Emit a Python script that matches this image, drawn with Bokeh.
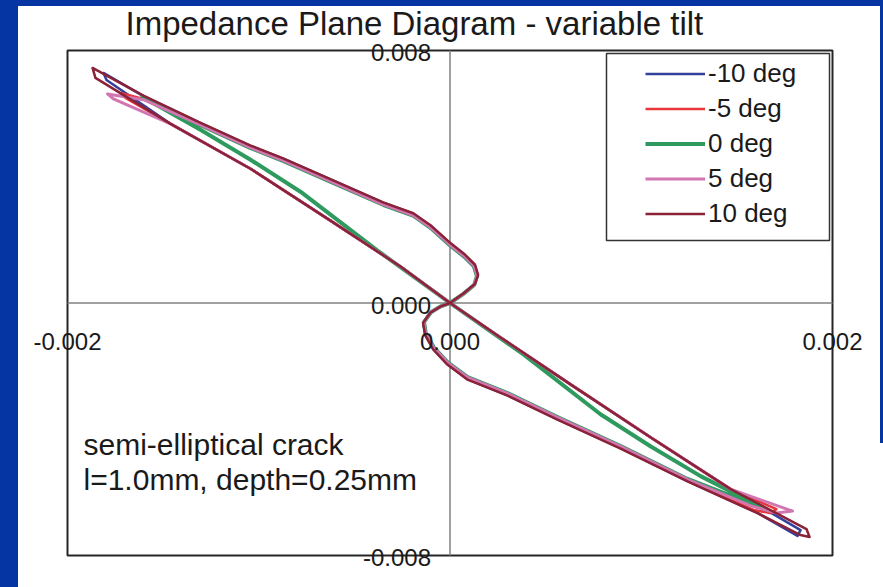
from bokeh.plotting import figure
from bokeh.models import Range1d, Label, BoxAnnotation, Legend, LegendItem
from bokeh.embed import file_html
from bokeh.resources import INLINE

# ---- impedance-plane traces (real, imaginary) for each tilt angle ----
tilt_labels = ["-10 deg", "-5 deg", "0 deg", "5 deg", "10 deg"]

re_m10 = [0, 0.000071, 0.000128, 0.000145, 0.000129, 0.000077, 0.000003, -0.000102, -0.000192, -0.000349,
          -0.000610, -0.000872, -0.001044, -0.001306, -0.001603, -0.001812, -0.001796, -0.001461, -0.001043, -0.000625,
          -0.000259, 0.0, 0.000264, 0.000630, 0.001048, 0.001467, 0.001833, 0.001817, 0.001608, 0.001242,
          0.000892, 0.000562, 0.000301, 0.000092, -0.000013, -0.000087, -0.000129, -0.000140, -0.000102, -0.000050, 0.0]
im_m10 = [0, 0.000305, 0.000592, 0.000880, 0.001200, 0.001520, 0.001875, 0.002450, 0.002830, 0.003178,
          0.003875, 0.004570, 0.004980, 0.005705, 0.006555, 0.007289, 0.007067, 0.005676, 0.004253, 0.002609,
          0.001154, 0.0, -0.001091, -0.002577, -0.004253, -0.005897, -0.007194, -0.007383, -0.006650, -0.005645,
          -0.004600, -0.003684, -0.002925, -0.002418, -0.001940, -0.001460, -0.001010, -0.000625, -0.000305, -0.000112, 0.0]

re_m5 = [0, 0.000071, 0.000128, 0.000144, 0.000128, 0.000076, 0.000003, -0.000102, -0.000191, -0.000348,
         -0.000609, -0.000871, -0.001043, -0.001305, -0.001603, -0.001723, -0.001697, -0.001461, -0.001043, -0.000625,
         -0.000259, 0.0, 0.000264, 0.000630, 0.001048, 0.001467, 0.001707, 0.001676, 0.001590, 0.001242,
         0.000892, 0.000562, 0.000301, 0.000092, -0.000013, -0.000086, -0.000128, -0.000139, -0.000102, -0.000050, 0.0]
im_m5 = [0, 0.000300, 0.000585, 0.000870, 0.001186, 0.001502, 0.001850, 0.002419, 0.002798, 0.003146,
         0.003842, 0.004538, 0.004949, 0.005660, 0.006467, 0.006656, 0.006498, 0.005676, 0.004253, 0.002609,
         0.001154, 0.0, -0.001091, -0.002577, -0.004253, -0.005897, -0.006530, -0.006656, -0.006560, -0.005613,
         -0.004569, -0.003652, -0.002893, -0.002387, -0.001913, -0.001439, -0.000996, -0.000617, -0.000300, -0.000111, 0.0]

re_0 = [0, 0.000070, 0.000126, 0.000141, 0.000125, 0.000074, 0.000002, -0.000102, -0.000190, -0.000347,
        -0.000608, -0.000870, -0.001042, -0.001304, -0.001608, -0.001305, -0.001043, -0.000782, -0.000379, 0.0,
        0.000384, 0.000787, 0.001048, 0.001310, 0.001660, 0.001242, 0.000892, 0.000562, 0.000301, 0.000092,
        -0.000012, -0.000084, -0.000126, -0.000136, -0.000100, -0.000049, 0.0]
im_0 = [0, 0.000290, 0.000570, 0.000850, 0.001160, 0.001470, 0.001815, 0.002380, 0.002758, 0.003105,
        0.003800, 0.004495, 0.004908, 0.005630, 0.006530, 0.005486, 0.004538, 0.003526, 0.001660, 0.0,
        -0.001628, -0.003526, -0.004538, -0.005486, -0.006561, -0.005575, -0.004530, -0.003612, -0.002855, -0.002350,
        -0.001880, -0.001410, -0.000975, -0.000605, -0.000295, -0.000108, 0.0]

re_p5 = [0, 0.000070, 0.000127, 0.000142, 0.000126, 0.000075, 0.000002, -0.000102, -0.000190, -0.000348,
         -0.000609, -0.000871, -0.001043, -0.001305, -0.001603, -0.001791, -0.001760, -0.001461, -0.001043, -0.000625,
         -0.000259, 0.0, 0.000264, 0.000630, 0.001048, 0.001467, 0.001791, 0.001707, 0.001571, 0.001242,
         0.000892, 0.000562, 0.000301, 0.000092, -0.000012, -0.000085, -0.000127, -0.000137, -0.000101, -0.000049, 0.0]
im_p5 = [0, 0.000295, 0.000578, 0.000860, 0.001172, 0.001485, 0.001830, 0.002395, 0.002772, 0.003118,
         0.003812, 0.004508, 0.004920, 0.005640, 0.006440, 0.006625, 0.006467, 0.005676, 0.004253, 0.002609,
         0.001154, 0.0, -0.001091, -0.002577, -0.004253, -0.005897, -0.006593, -0.006656, -0.006420, -0.005585,
         -0.004540, -0.003625, -0.002865, -0.002360, -0.001890, -0.001420, -0.000985, -0.000610, -0.000297, -0.000110, 0.0]

re_p10 = [0, 0.000072, 0.000130, 0.000147, 0.000131, 0.000078, 0.000004, -0.000102, -0.000192, -0.000350,
          -0.000611, -0.000873, -0.001045, -0.001307, -0.001603, -0.001869, -0.001854, -0.001461, -0.001043, -0.000625,
          -0.000259, 0.0, 0.000264, 0.000630, 0.001048, 0.001467, 0.001864, 0.001880, 0.001833, 0.001608,
          0.001242, 0.000892, 0.000562, 0.000301, 0.000092, -0.000014, -0.000088, -0.000130, -0.000141, -0.000103,
          -0.000051, 0.0]
im_p10 = [0, 0.000310, 0.000600, 0.000890, 0.001212, 0.001535, 0.001890, 0.002462, 0.002842, 0.003190,
          0.003888, 0.004582, 0.004993, 0.005718, 0.006570, 0.007447, 0.007131, 0.005676, 0.004253, 0.002609,
          0.001154, 0.0, -0.001091, -0.002577, -0.004253, -0.005897, -0.007162, -0.007415, -0.007352, -0.006660,
          -0.005655, -0.004612, -0.003695, -0.002935, -0.002428, -0.001950, -0.001470, -0.001020, -0.000630, -0.000308,
          -0.000113, 0.0]

# ---- axis ticks ----
x_ticks = [-0.002, 0.0, 0.002]
x_tick_labels = ["-0.002", "0.000", "0.002"]
y_ticks = [0.008, 0.0, -0.008]
y_tick_labels = ["0.008", "0.000", "-0.008"]

title_text = "Impedance Plane Diagram - variable tilt"
note_lines = ["semi-elliptical crack", "l=1.0mm, depth=0.25mm"]

FONT = "Liberation Sans"
INK = "#1a1a1a"
SLIDE_BLUE = "#0435A3"
colors = ["#34419A", "#E8363C", "#2E9A5E", "#D276B1", "#8B2237"]
widths = [2.5, 2.5, 4, 3, 2.5]

# ---- page geometry: the plotting box sits inside a white slide panel ----
W, H = 883, 587
BOX_L, BOX_R, BOX_T, BOX_B = 67, 832, 50, 555          # pixel edges of the boxed chart area
xmin, xmax = x_ticks[0], x_ticks[-1]
ymin, ymax = y_ticks[-1], y_ticks[0]
dx = (xmax - xmin) / (BOX_R - BOX_L)                   # data units per pixel
dy = (ymax - ymin) / (BOX_B - BOX_T)


def at_x(px):
    return xmin + (px - BOX_L) * dx


def at_y(py):
    return ymax - (py - BOX_T) * dy


p = figure(width=W, height=H, output_backend="svg", toolbar_location=None,
           x_range=Range1d(at_x(0), at_x(W)), y_range=Range1d(at_y(H), at_y(0)),
           x_axis_location=None, y_axis_location=None,
           min_border=0, background_fill_alpha=0, border_fill_alpha=0, outline_line_color=None)
# white slide panel with the blue slide edges showing at left, top and upper right
p.styles = {
    "background": (f"linear-gradient(to right, {SLIDE_BLUE} 18px, transparent 18px), "
                   f"linear-gradient(to bottom, {SLIDE_BLUE} 6px, transparent 6px), "
                   f"linear-gradient({SLIDE_BLUE}, {SLIDE_BLUE}) right top / 3px 443px no-repeat, "
                   "white")
}
p.grid.visible = False

# chart box
p.add_layout(BoxAnnotation(left=xmin, right=xmax, bottom=ymin, top=ymax, fill_alpha=0,
                           line_color="#262626", line_alpha=1, line_width=2, level="underlay"))
# crossing axis lines
p.segment(x0=[xmin, 0.0], y0=[0.0, ymin], x1=[xmax, 0.0], y1=[0.0, ymax],
          line_color="#808080", line_width=1.5)

# legend frame
p.add_layout(BoxAnnotation(left=at_x(606), right=at_x(829), top=at_y(53), bottom=at_y(240),
                           fill_color="white", fill_alpha=1, line_color="#333333", line_alpha=1,
                           line_width=1.5, level="underlay"))

series = [(re_m10, im_m10), (re_m5, im_m5), (re_0, im_0), (re_p5, im_p5), (re_p10, im_p10)]
items = []
for (xs, ys), lab, c, w in zip(series, tilt_labels, colors, widths):
    r = p.line(xs, ys, line_color=c, line_width=w, line_join="round")
    items.append(LegendItem(label=lab, renderers=[r]))

legend = Legend(items=items, location=(645, H - 231), orientation="vertical",
                label_text_font=FONT, label_text_font_size="26px", label_text_color=INK,
                glyph_width=60, glyph_height=35, label_height=35, spacing=0, padding=0, margin=0,
                label_standoff=3, border_line_color=None, background_fill_alpha=0)
p.add_layout(legend)

# title
p.add_layout(Label(x=at_x(125), y=at_y(23), text=title_text, text_align="left",
                   text_baseline="middle", text_font=FONT, text_font_size="33px", text_color=INK))

# tick labels beside the crossing axes
for xv, txt in zip(x_ticks, x_tick_labels):
    p.add_layout(Label(x=xv, y=0.0, text=txt, text_align="center", text_baseline="middle",
                       y_offset=-38, text_font=FONT, text_font_size="24px", text_color=INK))
for yv, txt in zip(y_ticks, y_tick_labels):
    p.add_layout(Label(x=0.0, y=yv, text=txt, text_align="right", text_baseline="middle",
                       x_offset=-19, y_offset=-2, text_font=FONT, text_font_size="24px", text_color=INK))

# crack description
for py, line in zip([444, 479], note_lines):
    p.add_layout(Label(x=at_x(83), y=at_y(py), text=line, text_align="left", text_baseline="middle",
                       text_font=FONT, text_font_size="30px", text_color=INK))

open("out.html", "w").write(file_html(p, INLINE))
